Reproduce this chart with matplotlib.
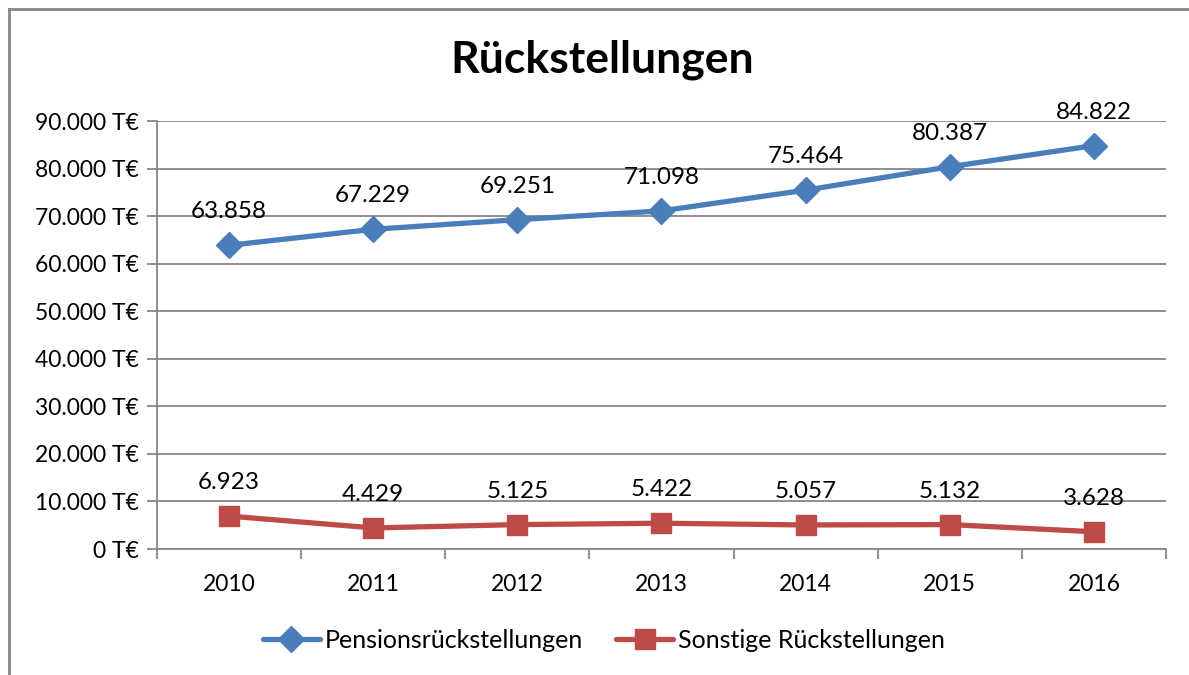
import numpy as np
import matplotlib
matplotlib.use("Agg")
import matplotlib.pyplot as plt
from matplotlib.lines import Line2D
from matplotlib.ticker import FuncFormatter, MultipleLocator

plt.rcParams['font.family'] = ['Lato', 'DejaVu Sans']

# Daten
jahre = ['2010', '2011', '2012', '2013', '2014', '2015', '2016']
pension = [63858, 67229, 69251, 71098, 75464, 80387, 84822]
sonstige = [6923, 4429, 5125, 5422, 5057, 5132, 3628]

blau = '#4A7EBB'
rot = '#BE4B48'
grau = '#868686'

fig = plt.figure(figsize=(11.89, 6.75), dpi=100)
ax = fig.add_axes([157/1189, 1 - 549/675, (1166 - 157)/1189, (549 - 121)/675])

x = np.arange(len(jahre))
ax.plot(x, pension, color=blau, lw=3.8, marker='D', ms=13, mfc=blau, mec=blau,
        label='Pensionsrückstellungen', solid_capstyle='round', zorder=3)
ax.plot(x, sonstige, color=rot, lw=3.8, marker='s', ms=14, mfc=rot, mec=rot,
        label='Sonstige Rückstellungen', solid_capstyle='round', zorder=3)

def de(v):
    return f'{v:,}'.replace(',', '.')

for xi, v in zip(x, pension):
    ax.annotate(de(v), (xi, v), xytext=(0, 24), textcoords='offset points',
                ha='center', va='center', fontsize=17.5)
for xi, v in zip(x, sonstige):
    ax.annotate(de(v), (xi, v), xytext=(0, 24), textcoords='offset points',
                ha='center', va='center', fontsize=17.5)

ax.set_xlim(-0.5, len(jahre) - 0.5)
ax.set_ylim(0, 90000)
ax.yaxis.set_major_locator(MultipleLocator(10000))
ax.yaxis.set_major_formatter(FuncFormatter(lambda v, p: de(int(v)) + ' T€'))
ax.set_xticks(x)
ax.set_xticklabels(jahre)
ax.set_xticks(np.arange(-0.5, len(jahre)), minor=True)
ax.tick_params(axis='x', which='major', length=0, pad=18, labelsize=16.5)
ax.tick_params(axis='x', which='minor', length=7, color=grau, width=1.3)
ax.tick_params(axis='y', length=7, color=grau, width=1.3, labelsize=16.5, pad=6)

ax.grid(axis='y', color=grau, lw=1.3)
ax.set_axisbelow(True)
for s in ['top', 'right']:
    ax.spines[s].set_visible(False)
for s in ['left', 'bottom']:
    ax.spines[s].set_color(grau)
    ax.spines[s].set_linewidth(1.3)

fig.text(602/1189, 1 - 60/675, 'Rückstellungen', ha='center', va='center',
         fontsize=32, fontweight='bold')

leg = fig.legend(loc='center', bbox_to_anchor=(604/1189, 1 - 640/675), ncol=2,
                 frameon=False, fontsize=18, handlelength=2.3, columnspacing=1.3,
                 handletextpad=0.2)

# Rahmen
fig.add_artist(Line2D([9/1189, 9/1189], [0, 1 - 9/675], color=grau, lw=2))
fig.add_artist(Line2D([9/1189, 1], [1 - 9/675, 1 - 9/675], color=grau, lw=2))

fig.savefig('out.png', dpi=100)
